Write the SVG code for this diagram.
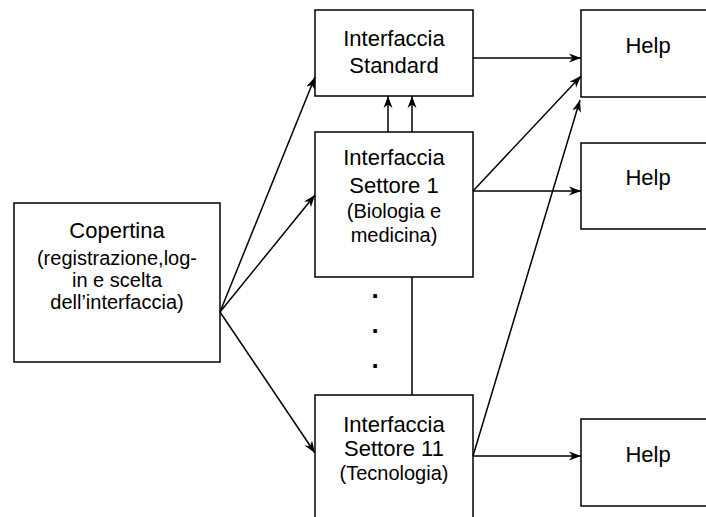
<svg xmlns="http://www.w3.org/2000/svg" width="706" height="517" viewBox="0 0 706 517">
<style>
.box{fill:#fff;stroke:#000;stroke-width:1.5}
.t{font-family:"Liberation Sans",Arial,sans-serif;font-size:22px;text-anchor:middle;fill:#000}
.s{font-family:"Liberation Sans",Arial,sans-serif;font-size:20px;text-anchor:middle;fill:#000}
.c{fill:none;stroke:#000;stroke-width:1.5}
.d{font-family:"Liberation Sans",Arial,sans-serif;font-size:26px;font-weight:bold;text-anchor:middle;fill:#000}
</style>
<defs>
<marker id="arr" markerUnits="userSpaceOnUse" markerWidth="14" markerHeight="12" refX="12" refY="5" orient="auto">
<path d="M0,0.5 L12,5 L0,9.5 L3.5,5 z" fill="#000"/>
</marker>
</defs>
<rect width="706" height="517" fill="#fff"/>
<g id="copertina">
<rect class="box" x="14" y="203" width="206" height="159"/>
<text class="t" x="117" y="238">Copertina</text>
<text class="s" x="117" y="265">(registrazione,log-</text>
<text class="s" x="117" y="287">in e scelta</text>
<text class="s" x="117" y="309">dell’interfaccia)</text>
</g>
<g id="standard">
<rect class="box" x="315" y="10" width="158" height="86"/>
<text class="t" x="394" y="46">Interfaccia</text>
<text class="t" x="394" y="73">Standard</text>
</g>
<g id="settore1">
<rect class="box" x="315" y="132" width="158" height="145"/>
<text class="t" x="394" y="165">Interfaccia</text>
<text class="t" x="394" y="193">Settore 1</text>
<text class="s" x="394" y="218">(Biologia e</text>
<text class="s" x="394" y="242">medicina)</text>
</g>
<g id="settore11">
<rect class="box" x="315" y="395" width="158" height="140"/>
<text class="t" x="394" y="432">Interfaccia</text>
<text class="t" x="394" y="456">Settore 11</text>
<text class="s" x="394" y="480">(Tecnologia)</text>
</g>
<g id="help1">
<rect class="box" x="581" y="10" width="140" height="87"/>
<text class="t" x="648" y="53">Help</text>
</g>
<g id="help2">
<rect class="box" x="581" y="143" width="140" height="86"/>
<text class="t" x="648" y="185">Help</text>
</g>
<g id="help3">
<rect class="box" x="581" y="419" width="140" height="87"/>
<text class="t" x="648" y="462">Help</text>
</g>
<g id="dots">
<text class="d" x="375" y="298">.</text>
<text class="d" x="375" y="333">.</text>
<text class="d" x="375" y="368">.</text>
</g>
<g id="connectors">
<line class="c" x1="220" y1="312" x2="315" y2="77" marker-end="url(#arr)"/>
<line class="c" x1="220" y1="312" x2="315" y2="195" marker-end="url(#arr)"/>
<line class="c" x1="220" y1="312" x2="315" y2="453" marker-end="url(#arr)"/>
<line class="c" x1="388" y1="132" x2="388" y2="96" marker-end="url(#arr)"/>
<line class="c" x1="412" y1="132" x2="412" y2="96" marker-end="url(#arr)"/>
<line class="c" x1="412" y1="277" x2="412" y2="395"/>
<line class="c" x1="473" y1="58" x2="581" y2="58" marker-end="url(#arr)"/>
<line class="c" x1="473" y1="191" x2="581" y2="76" marker-end="url(#arr)"/>
<line class="c" x1="473" y1="191" x2="581" y2="191" marker-end="url(#arr)"/>
<line class="c" x1="473" y1="456" x2="580" y2="100" marker-end="url(#arr)"/>
<line class="c" x1="473" y1="456" x2="581" y2="456" marker-end="url(#arr)"/>
</g>
</svg>
